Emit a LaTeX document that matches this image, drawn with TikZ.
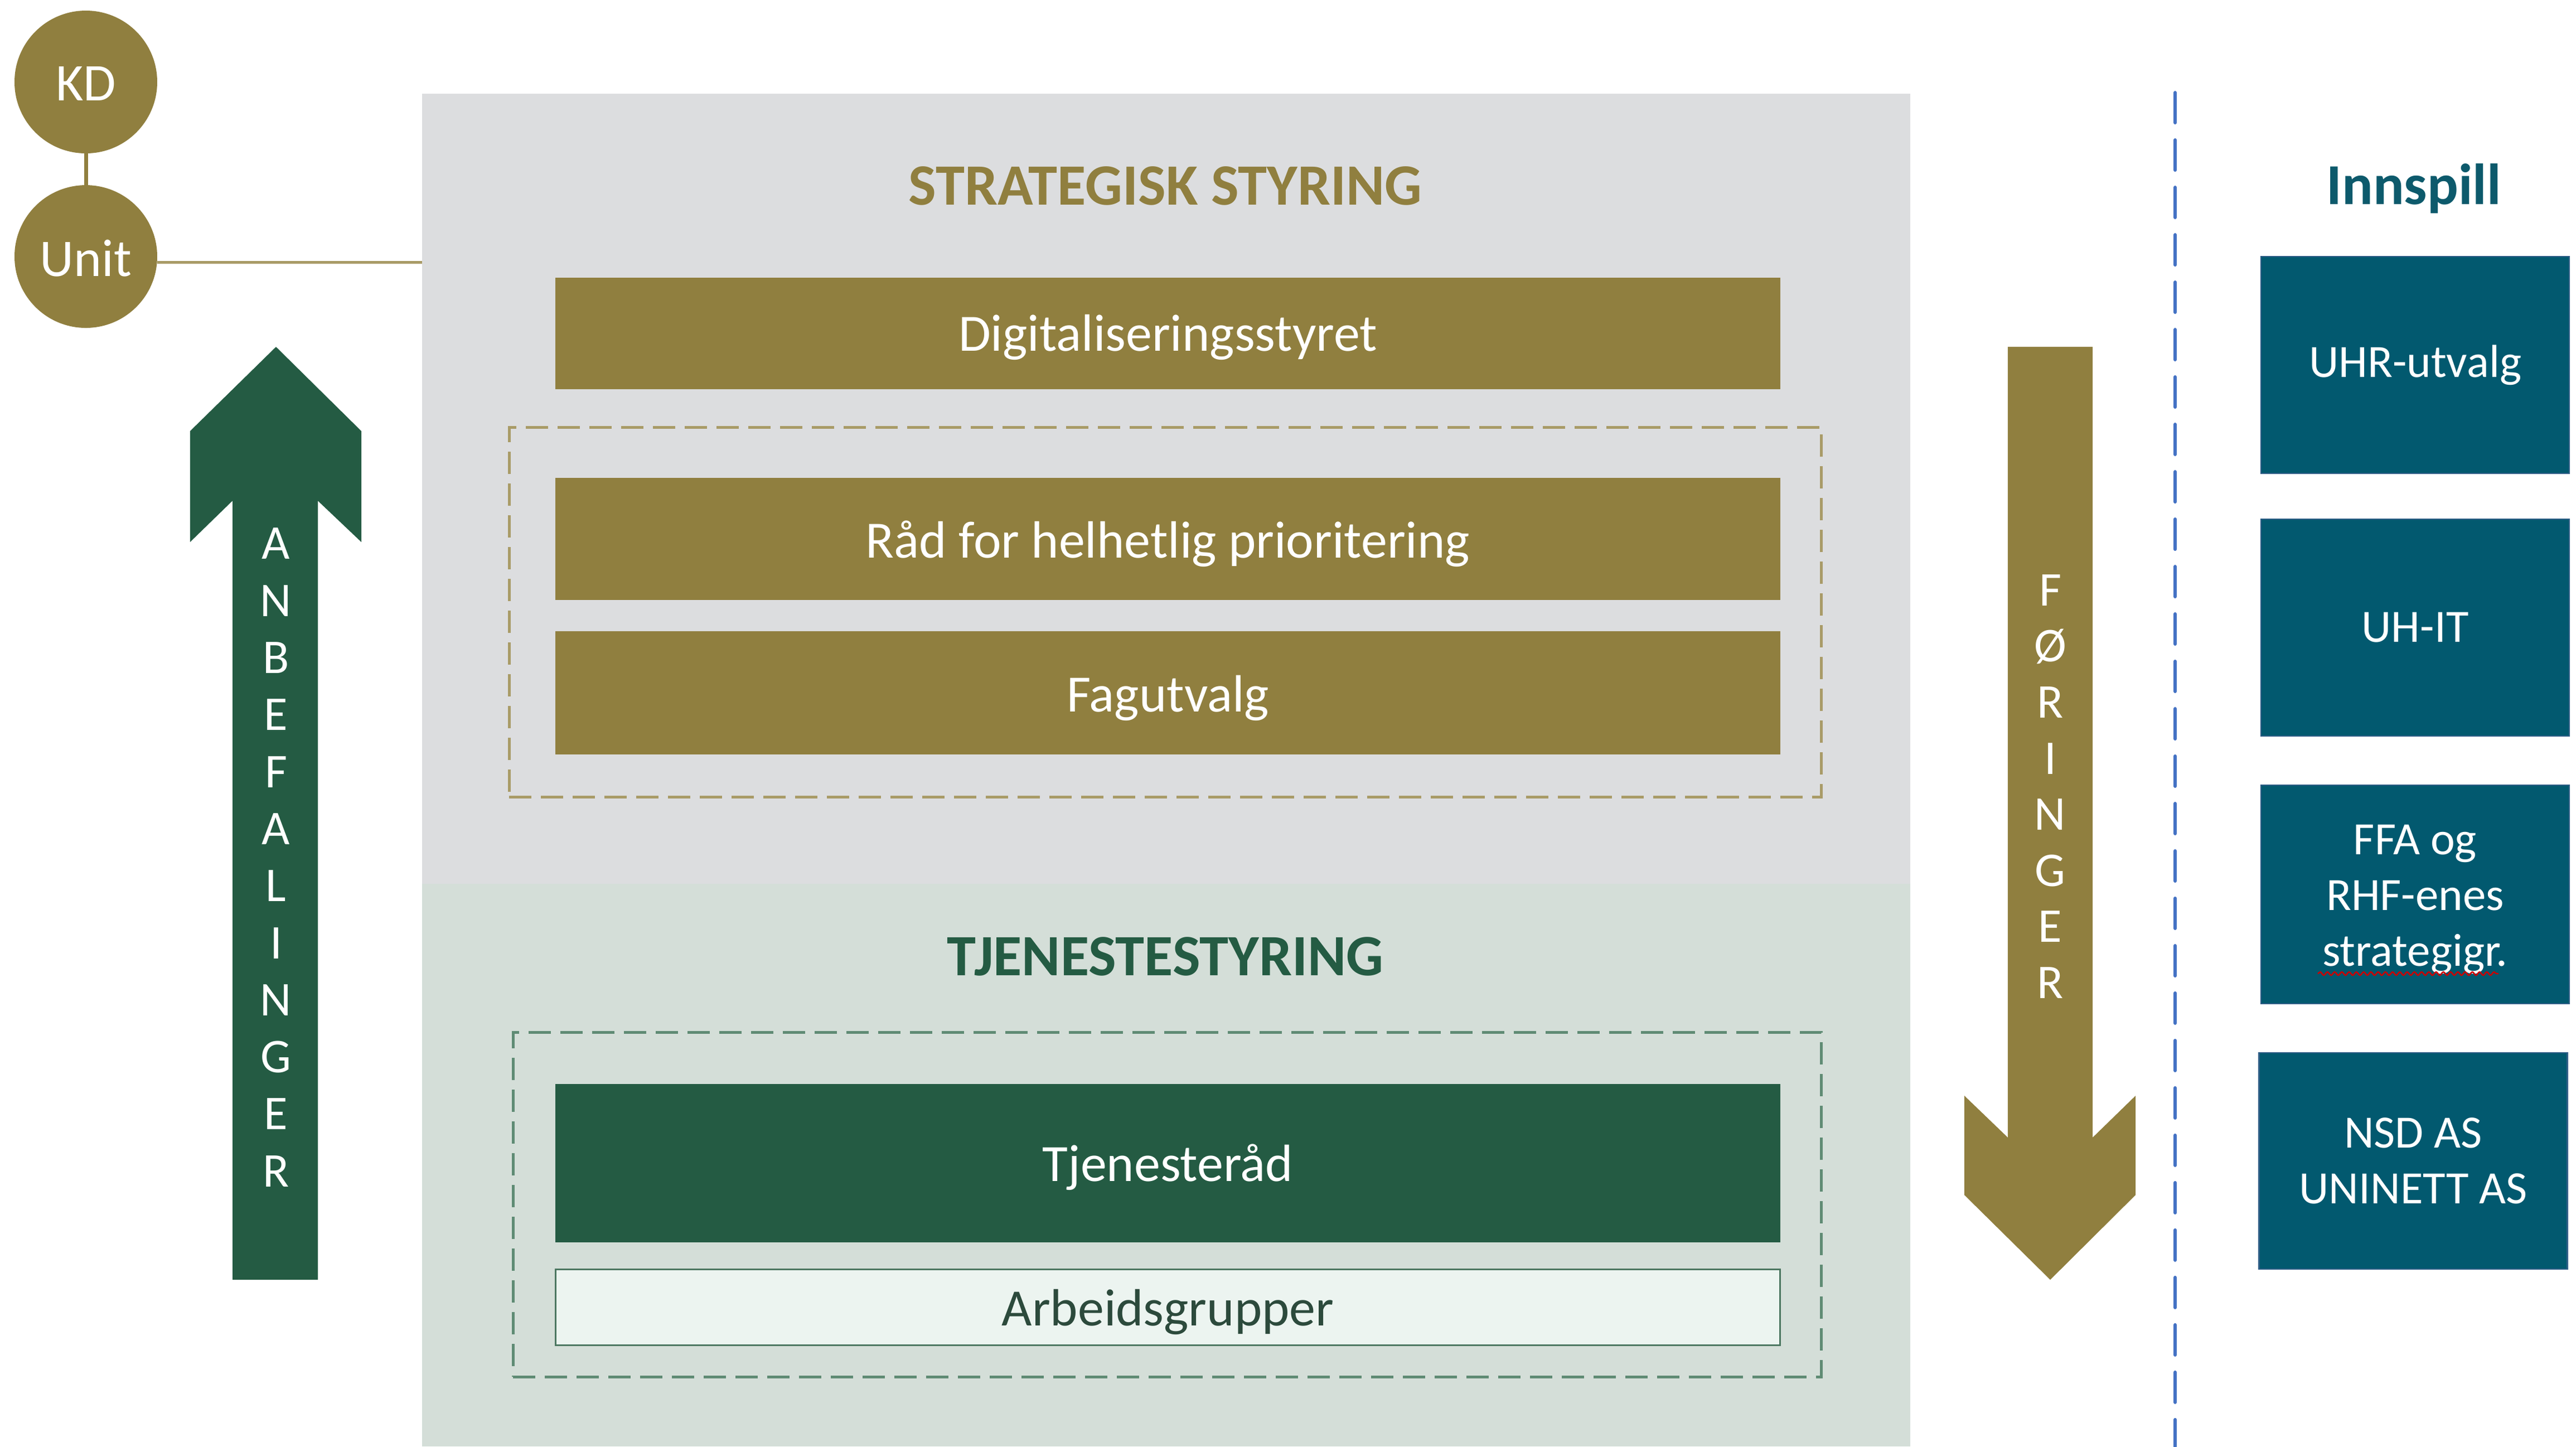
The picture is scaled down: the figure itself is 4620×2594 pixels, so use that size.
\documentclass[tikz,border=0pt]{standalone}
\usepackage{fontspec}
\setmainfont{Carlito}
\usetikzlibrary{decorations.pathmorphing}
\definecolor{cOlive}{HTML}{907F3F}
\definecolor{cOliveLt}{HTML}{A99B67}
\definecolor{cGreen}{HTML}{245B43}
\definecolor{cGreenDash}{HTML}{5F8B74}
\definecolor{cGreenEdge}{HTML}{4B7660}
\definecolor{cGrayPanel}{HTML}{DCDDDF}
\definecolor{cGreenPanel}{HTML}{D4DED8}
\definecolor{cLight}{HTML}{ECF4F0}
\definecolor{cTeal}{HTML}{02596F}
\definecolor{cTealText}{HTML}{0D5A6C}
\definecolor{cTealEdge}{HTML}{2E5D86}
\definecolor{cBlue}{HTML}{4472C4}
\definecolor{cArbText}{HTML}{2C4A3C}
\begin{document}
\begin{tikzpicture}[x=0.1pt,y=-0.1pt,
  every node/.style={inner sep=0pt,outer sep=0pt},
  orgcircle/.style={circle,fill=cOlive,minimum size=25.6pt,text=white,font=\fontsize{9.5}{11}\selectfont},
  panel/.style={rectangle,anchor=north west,minimum width=266.9pt},
  bar/.style={rectangle,fill=cOlive,text=white,minimum width=219.7pt,font=\fontsize{9.4}{11.3}\selectfont},
  greenbar/.style={bar,fill=cGreen},
  lightbar/.style={bar,fill=cLight,draw=cGreenEdge,line width=0.3pt,text=cArbText},
  groupbox/.style={rectangle,anchor=north west,dash pattern=on 4pt off 1.7pt,line width=0.5pt},
  title/.style={font=\bfseries\fontsize{10.5}{12.6}\selectfont},
  letter/.style={text=white,font=\fontsize{8.7}{10}\selectfont},
  inputbox/.style={rectangle,fill=cTeal,draw=cTealEdge,line width=0.25pt,text=white,minimum width=55.3pt,align=center,font=\fontsize{8.3}{10}\selectfont}
]
\useasboundingbox (0,0) rectangle (4620,2594);

% panels
\node[panel,fill=cGrayPanel,minimum height=141.7pt] (strat) at (757,168) {};
\node[panel,fill=cGreenPanel,minimum height=100.9pt] (tjen) at (757,1585) {};

% KD / Unit
\node[orgcircle] (kd) at (154,147) {};
\node[orgcircle] (unit) at (154,460) {};
\node[text=white,font=\fontsize{9.5}{11}\selectfont] (kdt) at (154,150) {KD};
\node[text=white,font=\fontsize{9.5}{11}\selectfont] (unitt) at (154,463) {Unit};
\draw[cOlive,line width=0.7pt] (kd) -- (unit);
\draw[cOliveLt,line width=0.5pt] ([yshift=-1pt]unit.east) -- ([yshift=-1pt]unit.east -| strat.west);

% titles
\node[title,text=cOlive] (sttitle) at (2090,333) {STRATEGISK STYRING};
\node[title,text=cGreen] (tjtitle) at (2090,1715) {TJENESTESTYRING};

% strategic boxes
\node[bar,minimum height=20pt] (digi) at (2094.5,598) {};
\node[text=white,font=\fontsize{9.4}{11.3}\selectfont] (digit) at (2094.5,605) {Digitaliseringsstyret};
\node[groupbox,draw=cOliveLt,minimum width=235.4pt,minimum height=66.3pt] (grp1) at (913,766) {};
\node[bar,minimum height=21.9pt] (raad) at (2094.5,966.5) {};
\node[text=white,font=\fontsize{9.4}{11.3}\selectfont] (raadt) at (2094.5,975.5) {Råd for helhetlig prioritering};
\node[bar,minimum height=22.1pt] (fag) at (2094.5,1242.5) {};
\node[text=white,font=\fontsize{9.4}{11.3}\selectfont] (fagt) at (2094.5,1251.5) {Fagutvalg};

% service boxes
\node[groupbox,draw=cGreenDash,minimum width=234.7pt,minimum height=61.8pt] (grp2) at (920,1851) {};
\node[greenbar,minimum height=28.4pt] (tjr) at (2094.5,2086) {};
\node[text=white,font=\fontsize{9.4}{11.3}\selectfont] (tjrt) at (2094.5,2093) {Tjenesteråd};
\node[lightbar,minimum height=13.6pt] (arb) at (2094.5,2344) {};
\node[text=cArbText,font=\fontsize{9.4}{11.3}\selectfont] (arbt) at (2094.5,2353) {Arbeidsgrupper};

% left arrow ANBEFALINGER
\coordinate (la1) at (495,622);
\coordinate (la2) at (648,773);
\coordinate (la3) at (648,972);
\coordinate (la4) at (570,898);
\coordinate (la5) at (570,2295);
\coordinate (la6) at (417,2295);
\coordinate (la7) at (417,898);
\coordinate (la8) at (341,972);
\coordinate (la9) at (341,773);
\fill[cGreen] (la1) -- (la2) -- (la3) -- (la4) -- (la5) -- (la6) -- (la7) -- (la8) -- (la9) -- cycle;
\foreach \l [count=\i] in {A,N,B,E,F,A,L,I,N,G,E,R}
  \node[letter] (anb\i) at (495,{975+(\i-1)*102.3}) {\l};

% right arrow FØRINGER
\coordinate (ra1) at (3601,622);
\coordinate (ra2) at (3753,622);
\coordinate (ra3) at (3753,2040);
\coordinate (ra4) at (3830,1965);
\coordinate (ra5) at (3830,2143);
\coordinate (ra6) at (3677,2295);
\coordinate (ra7) at (3523,2143);
\coordinate (ra8) at (3523,1965);
\coordinate (ra9) at (3601,2040);
\fill[cOlive] (ra1) -- (ra2) -- (ra3) -- (ra4) -- (ra5) -- (ra6) -- (ra7) -- (ra8) -- (ra9) -- cycle;
\foreach \l [count=\i] in {F,Ø,R,I,N,G,E,R}
  \node[letter] (for\i) at (3677,{1059+(\i-1)*100.5}) {\l};

% divider
\coordinate (dtop) at (3901,166);
\coordinate (dbot) at (3901,2594);
\draw[cBlue,line width=0.6pt,line cap=round,dash pattern=on 5.4pt off 3.1pt] (dtop) -- (dbot);

% input column
\node[title,text=cTealText,font=\bfseries\fontsize{10.4}{12.5}\selectfont] (innspill) at (4329,338) {Innspill};
\node[inputbox,minimum height=38.9pt] (uhr) at (4331.5,654.5) {UHR-utvalg};
\node[inputbox,minimum height=38.9pt] (uhit) at (4331.5,1125.5) {UH-IT};
\node[inputbox,minimum height=39.2pt] (ffa) at (4331.5,1604) {};
\node[text=white,align=center,font=\fontsize{8.3}{10}\selectfont] (ffat) at (4331.5,1613) {FFA og\\RHF-enes\\strategigr.};
\node[inputbox,minimum height=38.8pt] (nsd) at (4328,2082) {NSD AS\\UNINETT AS};
\coordinate (wav1) at (4157,1746);
\coordinate (wav2) at (4481,1746);
\draw[red!80!black,line width=0.25pt,decorate,decoration={snake,segment length=1.3pt,amplitude=0.3pt}] (wav1) -- (wav2);
\end{tikzpicture}
\end{document}
